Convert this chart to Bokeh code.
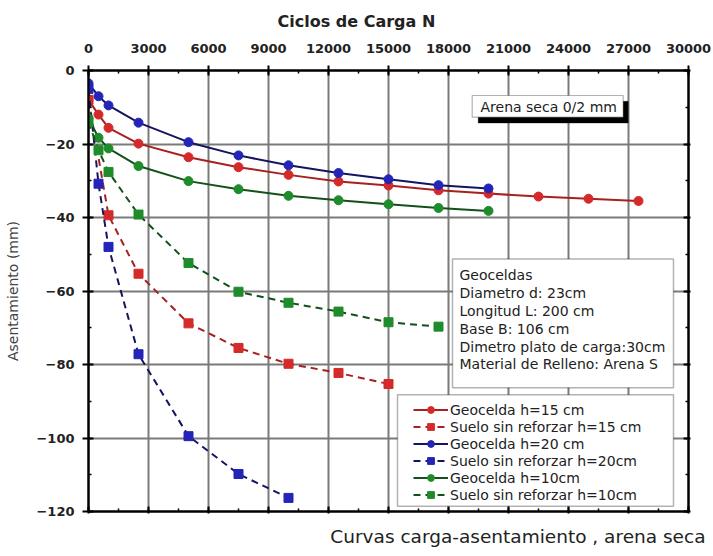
from bokeh.plotting import figure
from bokeh.models import (Range1d, LinearAxis, SingleIntervalTicker, Title,
                          Legend, LegendItem, BoxAnnotation, Label, CustomJSTickFormatter)
from bokeh.embed import file_html
from bokeh.resources import INLINE

# ---------------- data ----------------
N_geo15 = [0, 500, 1000, 2500, 5000, 7500, 10000, 12500, 15000, 17500, 20000, 22500, 25000, 27500]
geo15 = [-8.0, -12.0, -15.6, -19.9, -23.6, -26.3, -28.4, -30.2, -31.3, -32.6, -33.5, -34.3, -34.9, -35.5]

N_geo20 = [0, 500, 1000, 2500, 5000, 7500, 10000, 12500, 15000, 17500, 20000]
geo20 = [-3.5, -7.0, -9.5, -14.2, -19.5, -23.1, -25.8, -27.9, -29.6, -31.2, -32.1]

N_geo10 = [0, 500, 1000, 2500, 5000, 7500, 10000, 12500, 15000, 17500, 20000]
geo10 = [-13.0, -18.3, -21.2, -26.0, -30.1, -32.3, -34.1, -35.3, -36.4, -37.4, -38.2]

N_sin15 = [0, 1000, 2500, 5000, 7500, 10000, 12500, 15000]
sin15 = [-8.0, -39.4, -55.3, -68.8, -75.5, -79.8, -82.3, -85.3]

N_sin20 = [0, 500, 1000, 2500, 5000, 7500, 10000]
sin20 = [-5.0, -30.8, -48.0, -77.2, -99.5, -109.8, -116.3]

N_sin10 = [0, 500, 1000, 2500, 5000, 7500, 10000, 12500, 15000, 17500]
sin10 = [-14.0, -21.7, -27.6, -39.2, -52.4, -60.2, -63.2, -65.6, -68.5, -69.7]

legend_labels = ["Geocelda h=15 cm", "Suelo sin reforzar h=15 cm", "Geocelda h=20 cm",
                 "Suelo sin reforzar h=20cm", "Geocelda h=10cm", "Suelo sin reforzar h=10cm"]

info_lines = ["Geoceldas", "Diametro d: 23cm", "Longitud L: 200 cm", "Base B: 106 cm",
              "Dimetro plato de carga:30cm", "Material de Relleno: Arena S"]

top_title = "Ciclos de Carga  N"
bottom_title = "Curvas carga-asentamiento , arena seca"
y_label = "Asentamiento (mm)"

FONT = "DejaVu Sans"
TXT = "#222222"

p = figure(width=713, height=556, x_range=Range1d(0, 30000), y_range=Range1d(-120, 0),
           x_axis_location="above", output_backend="svg", toolbar_location=None,
           min_border_left=88, min_border_right=25, min_border_top=70, min_border_bottom=44,
           background_fill_color="white", border_fill_color="white")
p.outline_line_color = "black"
p.outline_line_width = 2

xt = SingleIntervalTicker(interval=3000, num_minor_ticks=2)
yt = SingleIntervalTicker(interval=20, num_minor_ticks=2)
p.xaxis.ticker = xt
p.yaxis.ticker = yt
p.xgrid.ticker = xt
p.ygrid.ticker = yt
for g in (p.xgrid, p.ygrid):
    g.grid_line_color = "#7a7a7a"
    g.grid_line_width = 2

# extra axes without labels
blank = CustomJSTickFormatter(code="return ''")
bax = LinearAxis(ticker=xt, formatter=blank)
rax = LinearAxis(ticker=yt, formatter=blank)
p.add_layout(bax, "below")
p.add_layout(rax, "right")

for ax in p.axis:
    ax.axis_line_width = 2
    ax.axis_line_color = "black"
    ax.major_tick_line_width = 2
    ax.minor_tick_line_width = 1.5
    ax.major_tick_in = 5
    ax.major_tick_out = 5
    ax.minor_tick_in = 3
    ax.minor_tick_out = 0
    ax.major_label_text_font = FONT
    ax.major_label_text_font_style = "bold"
    ax.major_label_text_font_size = "13px"
    ax.major_label_text_color = TXT

for ax in (bax, rax):
    ax.major_label_standoff = 0
    ax.major_tick_out = 2

p.xaxis[0].major_label_standoff = 13
yax = p.yaxis[0]
yax.axis_label = y_label
yax.axis_label_text_font = FONT
yax.axis_label_text_font_style = "normal"
yax.axis_label_text_font_size = "14px"
yax.axis_label_standoff = 12
yax.major_tick_out = 6
yax.major_label_standoff = 8

# titles
p.title.text = top_title
p.title.align = "left"
p.title.offset = 189
p.title.standoff = 19
p.title.text_font = FONT
p.title.text_font_style = "bold"
p.title.text_font_size = "16px"
p.title.text_color = TXT

p.add_layout(Title(text=bottom_title, align="right", offset=-17, standoff=20,
                   text_font=FONT, text_font_style="normal", text_font_size="18.5px",
                   text_color=TXT), "below")

# series
RED, BLUE, GREEN = "#d42a2a", "#2424b8", "#1e8c2a"
RED_L, BLUE_L, GREEN_L = "#a82020", "#141460", "#14501a"

series = [
    (N_geo15, geo15, RED, RED_L, "circle", None),
    (N_sin15, sin15, RED, RED_L, "square", "7 5"),
    (N_geo20, geo20, BLUE, BLUE_L, "circle", None),
    (N_sin20, sin20, BLUE, BLUE_L, "square", "7 5"),
    (N_geo10, geo10, GREEN, GREEN_L, "circle", None),
    (N_sin10, sin10, GREEN, GREEN_L, "square", "7 5"),
]
items = []
for (xs, ys, col, lcol, mk, dash), lab in zip(series, legend_labels):
    kw = dict(line_dash=dash) if dash else {}
    lr = p.line(xs, ys, line_color=lcol, line_width=2, **kw)
    sr = p.scatter(xs, ys, marker=mk, size=9, fill_color=col, line_color=col, line_width=1)
    items.append(LegendItem(label=lab, renderers=[lr, sr]))

PXY = 120 / 442   # data units per pixel in y

# Arena seca box with shadow
p.add_layout(BoxAnnotation(left=19485, right=26985, top=-8.4, bottom=-14.3,
                           fill_color="black", fill_alpha=1, line_color="black"))
p.add_layout(BoxAnnotation(left=19185, right=26735, top=-6.8, bottom=-12.7,
                           fill_color="white", fill_alpha=1, line_color="black", line_width=1.2))
p.add_layout(Label(x=19600, y=-9.8, text="Arena seca 0/2 mm", text_baseline="middle",
                   text_font=FONT, text_font_size="14px", text_color=TXT))

# Geoceldas info box
p.add_layout(BoxAnnotation(left=18200, right=29250, top=-51.3, bottom=-86.3,
                           fill_color="white", fill_alpha=1, line_color="black", line_width=1.5))
for i, t in enumerate(info_lines):
    p.add_layout(Label(x=18550, y=-55.7 - i * 17.9 * PXY, text=t, text_baseline="middle",
                       text_font=FONT, text_font_size="14px", text_color=TXT))

# legend frame + legend
p.add_layout(BoxAnnotation(left=15450, right=29250, top=-88.2, bottom=-118.6,
                           fill_color="white", fill_alpha=1, line_color="black", line_width=1.5))
legend = Legend(items=items, location=(325, 8), border_line_color=None,
                background_fill_alpha=0,
                label_text_font=FONT, label_text_font_size="14px", label_text_color=TXT,
                glyph_width=35, glyph_height=17, label_height=17, label_standoff=2,
                spacing=0, padding=0, margin=0)
p.add_layout(legend)

open("out.html", "w").write(file_html(p, INLINE))
